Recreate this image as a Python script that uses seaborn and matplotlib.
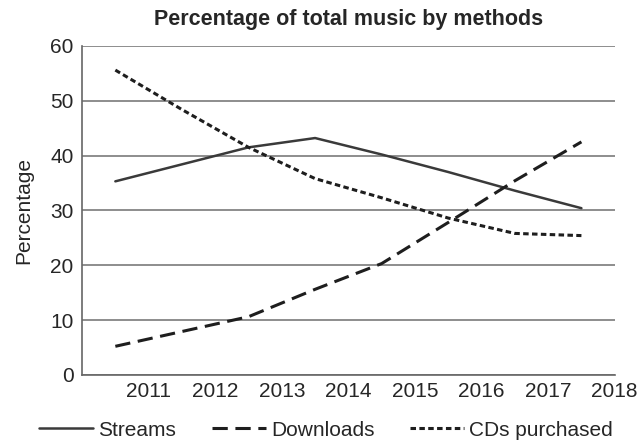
import pandas as pd
import numpy as np
import matplotlib.pyplot as plt
import seaborn as sns

# valeurs (points au milieu de chaque année)
years = [2010.5, 2011.5, 2012.5, 2013.5, 2014.5, 2015.5, 2016.5, 2017.5]
streams = [35.3, 38.4, 41.5, 43.2, 40.2, 37.0, 33.6, 30.4]
downloads = [5.2, 7.9, 10.6, 15.6, 20.3, 27.8, 35.4, 42.5]
cds = [55.6, 48.4, 41.5, 35.8, 32.3, 28.6, 25.8, 25.4]
series_names = ["Streams", "Downloads", "CDs purchased"]
xtick_years = [2011, 2012, 2013, 2014, 2015, 2016, 2017, 2018]
ytick_values = [0, 10, 20, 30, 40, 50, 60]

df = pd.DataFrame({
    "year": years * 3,
    "value": streams + downloads + cds,
    "method": np.repeat(series_names, len(years)),
})

sns.set_style("white")
plt.rcParams['font.family'] = ['Liberation Sans', 'DejaVu Sans']

fig = plt.figure(figsize=(6.41, 4.42), dpi=100)
ax = fig.add_axes([0.128, 0.152, 0.831, 0.744])

ax.grid(axis='y', color='#7a7a7a', linewidth=1.2)
ax.set_axisbelow(True)

# styles de trait : plein, tirets longs, tirets courts
dashes = {"Streams": None, "Downloads": (5, 2.5), "CDs purchased": (1.8, 1.1)}
widths = {"Streams": 1.8, "Downloads": 2.2, "CDs purchased": 2.2}
colors = {"Streams": "#3a3a3a", "Downloads": "#1e1e1e", "CDs purchased": "#1e1e1e"}
for name in series_names:
    sub = df[df["method"] == name]
    sns.lineplot(data=sub, x="year", y="value", ax=ax, color=colors[name],
                 linewidth=widths[name], label=name)
    if dashes[name]:
        ax.lines[-1].set_dashes(dashes[name])

ax.set_xlim(2010, 2018)
ax.set_ylim(0, 60)
ax.set_xticks(xtick_years)
ax.set_xticklabels([str(y) for y in xtick_years], fontsize=15)
ax.set_yticks(ytick_values)
ax.set_yticklabels([str(v) for v in ytick_values], fontsize=15)
ax.tick_params(axis='x', direction='in', length=4, color='#666666', pad=5)
ax.tick_params(axis='y', direction='out', length=5, color='#666666', pad=1)

for side in ['top', 'right']:
    ax.spines[side].set_visible(False)
for side in ['left', 'bottom']:
    ax.spines[side].set_color('#666666')
    ax.spines[side].set_linewidth(1.2)

ax.set_xlabel("")
ax.set_ylabel("Percentage", fontsize=15, labelpad=12)
ax.set_title("Percentage of total music by methods", fontsize=15.5,
             fontweight='bold', pad=15)

ax.legend(loc='center', bbox_to_anchor=(0.458, -0.168), ncol=3,
          frameon=False, fontsize=15, handlelength=2.6, handletextpad=0.25,
          columnspacing=1.7)

plt.savefig("out.png", dpi=100)
